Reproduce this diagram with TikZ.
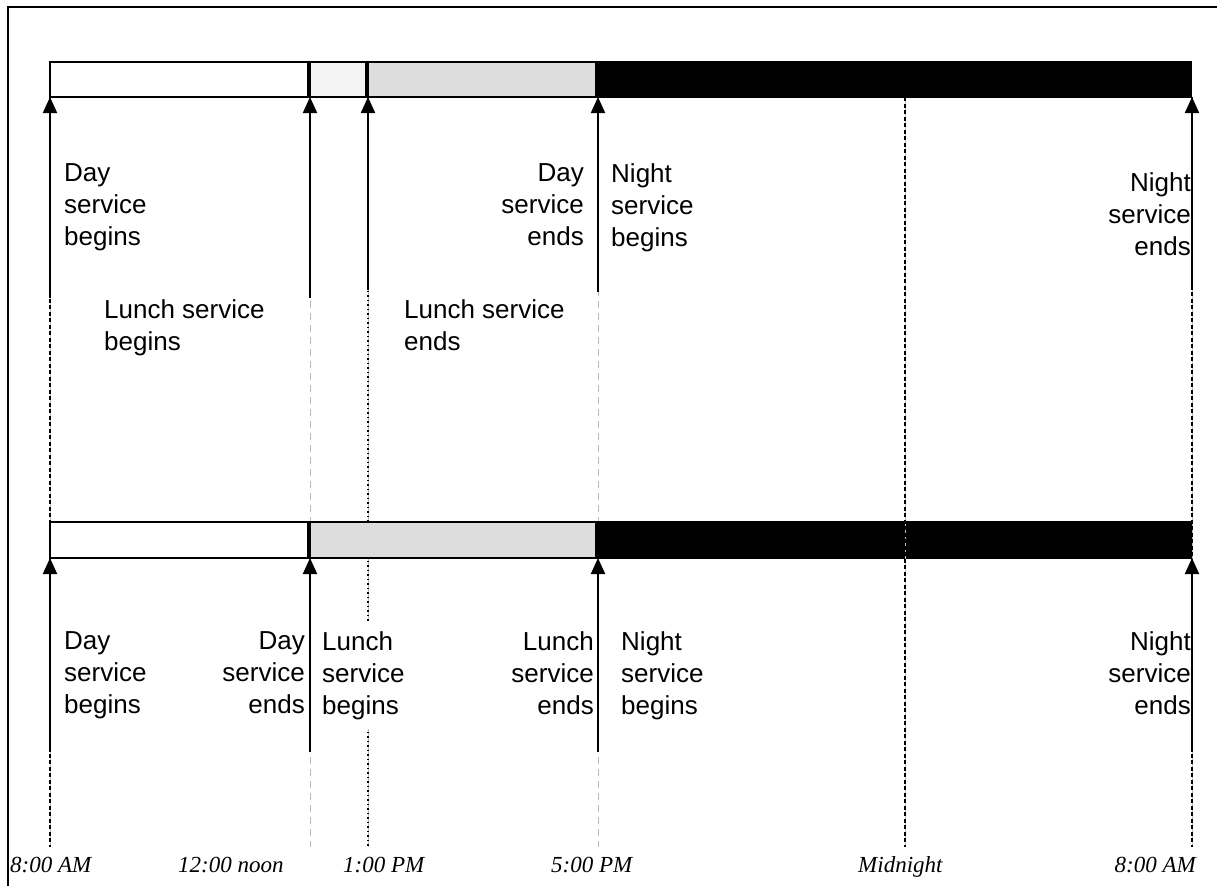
\documentclass[tikz,border=0pt]{standalone}
\usepackage{fontspec}
\setmainfont{Liberation Sans}
\newfontfamily\timesfont{Liberation Serif}
\usetikzlibrary{arrows.meta}
\definecolor{lite}{HTML}{F4F4F4}
\definecolor{mid}{HTML}{DDDDDD}
\begin{document}
\begin{tikzpicture}[x=1pt,y=-1pt,
 lbl/.style={inner sep=0pt, font=\fontsize{26}{32}\selectfont},
 lleft/.style={lbl, anchor=north west, align=left},
 lright/.style={lbl, anchor=north east, align=right},
 tlbl/.style={inner sep=0pt, anchor=base west, font=\timesfont\itshape\fontsize{23}{28}\selectfont},
 arr/.style={line width=2pt, -{Triangle[width=14pt,length=16pt]}},
 guideback/.style={gray!50, line width=0.7pt},
 blk/.style={line width=1.4pt, dash pattern=on 4pt off 2.5pt},
 dot/.style={line width=1.1pt, dash pattern=on 1.5pt off 3pt},
 gry/.style={gray!55, line width=0.8pt, dash pattern=on 7pt off 5pt},
 barbox/.style={line width=2pt, draw=black},
 divider/.style={line width=3.5pt}
]
\useasboundingbox (0,0) rectangle (1217,886);
% frame
\draw[line width=2.5pt] (1217,7) -- (8,7) -- (8,886);

% guide lines
\coordinate (g8t) at (50,97);   \coordinate (g8b) at (50,847);
\coordinate (g12t) at (310,97); \coordinate (g12b) at (310,847);
\coordinate (g1t) at (368,97);  \coordinate (g1b) at (368,847);
\coordinate (g5t) at (598,97);  \coordinate (g5b) at (598,847);
\coordinate (gmt) at (905,97);  \coordinate (gmb) at (905,847);
\coordinate (g8rt) at (1192,97); \coordinate (g8rb) at (1192,847);

\draw[gry] (g12t) -- (g12b);
\draw[gry] (g5t) -- (g5b);
\draw[guideback] (g1t) -- (g1b);
\draw[dot] (g1t) -- (g1b);
\draw[guideback] (g8t) -- (g8b);
\draw[blk] (g8t) -- (g8b);
\draw[guideback] (g8rt) -- (g8rb);
\draw[blk] (g8rt) -- (g8rb);

% top bar
\draw[barbox, fill=white] (50,62) rectangle (309,97);
\draw[barbox, fill=lite] (309,62) rectangle (367,97);
\draw[barbox, fill=mid] (367,62) rectangle (596,97);
\fill[black] (595,61) rectangle (1192,98);
\draw[divider] (309,61) -- (309,98);
\draw[divider] (367,61) -- (367,98);

% bottom bar
\draw[barbox, fill=white] (50,522) rectangle (309,558);
\draw[barbox, fill=mid] (309,522) rectangle (596,558);
\fill[black] (595,521) rectangle (1192,559);
\draw[divider] (309,521) -- (309,559);

% midnight guide (visible across bars)
\draw[guideback] (gmt) -- (gmb);
\draw[blk] (gmt) -- (gmb);

% arrows to top bar
\coordinate (ta1) at (50,97);   \coordinate (tf1) at (50,298);
\coordinate (ta2) at (310,97);  \coordinate (tf2) at (310,298);
\coordinate (ta3) at (368,97);  \coordinate (tf3) at (368,290);
\coordinate (ta4) at (598,97);  \coordinate (tf4) at (598,292);
\coordinate (ta5) at (1192,97); \coordinate (tf5) at (1192,290);
\foreach \i in {1,...,5} \draw[arr] (tf\i) -- (ta\i);

% arrows to bottom bar
\coordinate (ba1) at (50,558);   \coordinate (bf1) at (50,752);
\coordinate (ba2) at (310,558);  \coordinate (bf2) at (310,752);
\coordinate (ba3) at (598,558);  \coordinate (bf3) at (598,752);
\coordinate (ba4) at (1192,558); \coordinate (bf4) at (1192,752);
\foreach \i in {1,...,4} \draw[arr] (bf\i) -- (ba\i);

% top labels
\node[lleft]  (tDayB)   at (64,163)   {Day\\service\\begins};
\node[lleft]  (tLunchB) at (104,299)  {Lunch service\\begins};
\node[lright] (tDayE)   at (584,163)  {Day\\service\\ends};
\node[lleft]  (tLunchE) at (404,299)  {Lunch service\\ends};
\node[lleft]  (tNightB) at (611,163)  {Night\\service\\begins};
\node[lright] (tNightE) at (1191,172) {Night\\service\\ends};

% bottom labels
\node[lleft]  (bDayB)   at (64,631)   {Day\\service\\begins};
\node[lright] (bDayE)   at (305,631)  {Day\\service\\ends};
\node[lleft, fill=white, inner ysep=10pt] (bLunchB) at (322,621) {Lunch\\service\\begins};
\node[lright] (bLunchE) at (594,631)  {Lunch\\service\\ends};
\node[lleft]  (bNightB) at (621,631)  {Night\\service\\begins};
\node[lright] (bNightE) at (1191,631) {Night\\service\\ends};

% time labels
\node[tlbl] (t8a)  at (10,872)  {8:00 AM};
\node[tlbl] (t12)  at (178,872) {12:00 noon};
\node[tlbl] (t1)   at (343,872) {1:00 PM};
\node[tlbl] (t5)   at (551,872) {5:00 PM};
\node[tlbl] (tmid) at (858,872) {Midnight};
\node[tlbl, anchor=base east] (t8b) at (1196,872) {8:00 AM};
\end{tikzpicture}
\end{document}
